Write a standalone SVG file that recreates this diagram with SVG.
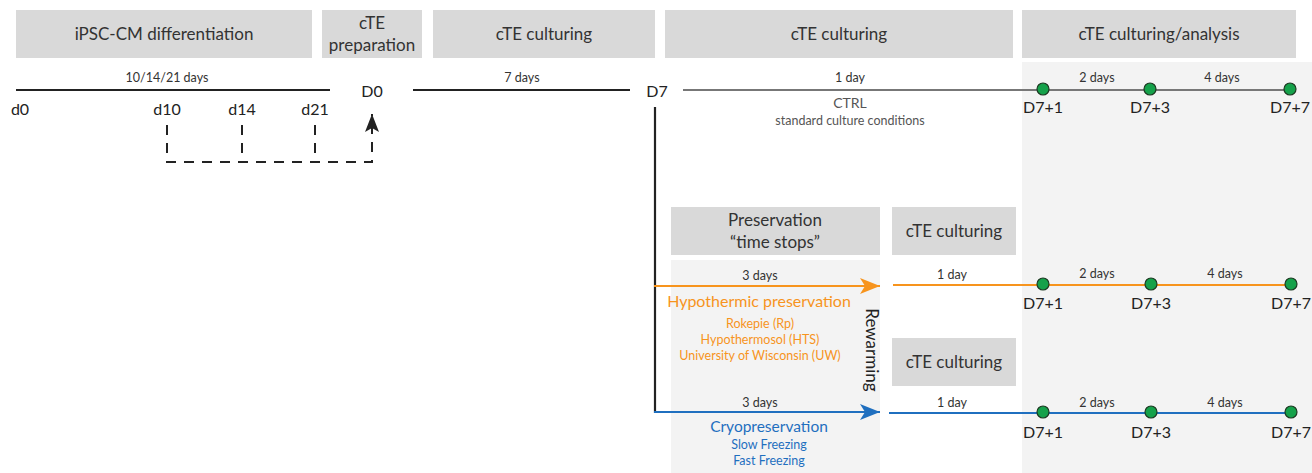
<svg xmlns="http://www.w3.org/2000/svg" width="1312" height="473" viewBox="0 0 1312 473">
<style>
.hdr{fill:#d9d9d9}
.panel{fill:#f3f3f3}
text{font-family:Lato,"Liberation Sans",sans-serif}
.ht{font-size:17px;fill:#333;text-anchor:middle}
.lbl{font-size:16px;fill:#222;text-anchor:middle}
.sm{font-size:12.5px;fill:#333;text-anchor:middle}
.or{fill:#f7941d;text-anchor:middle}
.bl{fill:#1f6fbf;text-anchor:middle}
.dot{fill:#15a14a;stroke:#1c3a22;stroke-width:1.2}
</style>
<defs>
<marker id="ao" markerWidth="20" markerHeight="16" refX="20" refY="8" orient="auto" markerUnits="userSpaceOnUse"><path d="M0,0 L20,8 L0,16 L5,8 Z" fill="#f7941d"/></marker>
<marker id="ab" markerWidth="20" markerHeight="16" refX="20" refY="8" orient="auto" markerUnits="userSpaceOnUse"><path d="M0,0 L20,8 L0,16 L5,8 Z" fill="#1f6fbf"/></marker>
<marker id="ak" markerWidth="18" markerHeight="14" refX="18" refY="7" orient="auto" markerUnits="userSpaceOnUse"><path d="M0,0 L18,7 L0,14 L4,7 Z" fill="#222"/></marker>
</defs>
<rect width="1312" height="473" fill="#fff"/>
<rect class="panel" x="1022" y="62" width="290" height="411"/>
<rect class="panel" x="671" y="260" width="209" height="213"/>

<g id="h1"><rect class="hdr" x="16" y="10" width="296" height="48"/><text class="ht" x="164" y="40">iPSC-CM differentiation</text></g>
<g id="h2"><rect class="hdr" x="322" y="10" width="100" height="48"/><text class="ht" x="372" y="29">cTE</text><text class="ht" x="372" y="51">preparation</text></g>
<g id="h3"><rect class="hdr" x="433" y="10" width="222" height="48"/><text class="ht" x="544" y="40">cTE culturing</text></g>
<g id="h4"><rect class="hdr" x="665" y="10" width="348" height="48"/><text class="ht" x="839" y="40">cTE culturing</text></g>
<g id="h5"><rect class="hdr" x="1022" y="10" width="274" height="48"/><text class="ht" x="1159" y="40">cTE culturing/analysis</text></g>
<g id="h6"><rect class="hdr" x="671" y="207" width="209" height="48"/><text class="ht" x="775" y="226">Preservation</text><text class="ht" x="775" y="248">“time stops”</text></g>
<g id="h7"><rect class="hdr" x="892" y="207" width="124" height="48"/><text class="ht" x="954" y="237">cTE culturing</text></g>
<g id="h8"><rect class="hdr" x="892" y="338" width="124" height="48"/><text class="ht" x="954" y="368">cTE culturing</text></g>

<g id="connectors" fill="none">
<line x1="16" y1="90" x2="330" y2="90" stroke="#222" stroke-width="2.2"/>
<line x1="413" y1="90" x2="630" y2="90" stroke="#222" stroke-width="2.2"/>
<line x1="683" y1="90" x2="1290" y2="90" stroke="#777" stroke-width="2.2"/>
<path d="M167,125 V162 H372 V114" stroke="#222" stroke-width="2" stroke-dasharray="10,8" marker-end="url(#ak)"/>
<line x1="242" y1="125" x2="242" y2="162" stroke="#222" stroke-width="2" stroke-dasharray="10,8"/>
<line x1="315" y1="125" x2="315" y2="162" stroke="#222" stroke-width="2" stroke-dasharray="10,8"/>
<line x1="655" y1="107" x2="655" y2="413" stroke="#222" stroke-width="2.2"/>
<line x1="654" y1="286" x2="880" y2="286" stroke="#f7941d" stroke-width="2.2" marker-end="url(#ao)"/>
<line x1="654" y1="412" x2="880" y2="412" stroke="#1f6fbf" stroke-width="2.2" marker-end="url(#ab)"/>
<line x1="893" y1="285" x2="1290" y2="285" stroke="#f7941d" stroke-width="2.2"/>
<line x1="889" y1="413" x2="1290" y2="413" stroke="#1f6fbf" stroke-width="2.2"/>
</g>

<g id="top-labels">
<text class="sm" x="167" y="82">10/14/21 days</text>
<text class="lbl" x="20" y="115">d0</text>
<text class="lbl" x="167" y="115">d10</text>
<text class="lbl" x="242" y="115">d14</text>
<text class="lbl" x="315" y="115">d21</text>
<text class="lbl" x="372" y="97">D0</text>
<text class="sm" x="522" y="82">7 days</text>
<text class="lbl" x="657" y="97">D7</text>
<text class="sm" x="850" y="82">1 day</text>
<text class="ht" x="850" y="108" style="font-size:14px;fill:#555">CTRL</text>
<text class="sm" x="850" y="125" style="fill:#555">standard culture conditions</text>
<text class="sm" x="1097" y="82">2 days</text>
<text class="sm" x="1222" y="82">4 days</text>
</g>

<g id="ctrl-points">
<circle class="dot" cx="1043" cy="89" r="6"/><circle class="dot" cx="1150" cy="89" r="6"/><circle class="dot" cx="1290" cy="89" r="6"/>
<text class="lbl" x="1043" y="113">D7+1</text><text class="lbl" x="1150" y="113">D7+3</text><text class="lbl" x="1290" y="113">D7+7</text>
</g>

<g id="hypo">
<text class="sm" x="760" y="280">3 days</text>
<text class="or" x="759" y="307" style="font-size:16px">Hypothermic preservation</text>
<text class="or" x="760" y="328" style="font-size:12.5px">Rokepie (Rp)</text>
<text class="or" x="760" y="344" style="font-size:12.5px">Hypothermosol (HTS)</text>
<text class="or" x="760" y="360" style="font-size:12.5px">University of Wisconsin (UW)</text>
<text class="sm" x="952" y="279">1 day</text>
<text class="sm" x="1097" y="278">2 days</text>
<text class="sm" x="1225" y="278">4 days</text>
<circle class="dot" cx="1043" cy="284" r="6"/><circle class="dot" cx="1151" cy="284" r="6"/><circle class="dot" cx="1291" cy="284" r="6"/>
<text class="lbl" x="1043" y="309">D7+1</text><text class="lbl" x="1151" y="309">D7+3</text><text class="lbl" x="1291" y="309">D7+7</text>
</g>

<g id="rewarming"><text class="lbl" x="0" y="0" style="font-size:17px" transform="translate(866,350) rotate(90)">Rewarming</text></g>

<g id="cryo">
<text class="sm" x="760" y="407">3 days</text>
<text class="bl" x="769" y="432" style="font-size:15.5px">Cryopreservation</text>
<text class="bl" x="769" y="449" style="font-size:12.5px">Slow Freezing</text>
<text class="bl" x="769" y="465" style="font-size:12.5px">Fast Freezing</text>
<text class="sm" x="952" y="407">1 day</text>
<text class="sm" x="1097" y="407">2 days</text>
<text class="sm" x="1225" y="407">4 days</text>
<circle class="dot" cx="1043" cy="412" r="6"/><circle class="dot" cx="1151" cy="412" r="6"/><circle class="dot" cx="1291" cy="412" r="6"/>
<text class="lbl" x="1043" y="438">D7+1</text><text class="lbl" x="1151" y="438">D7+3</text><text class="lbl" x="1291" y="438">D7+7</text>
</g>
</svg>
